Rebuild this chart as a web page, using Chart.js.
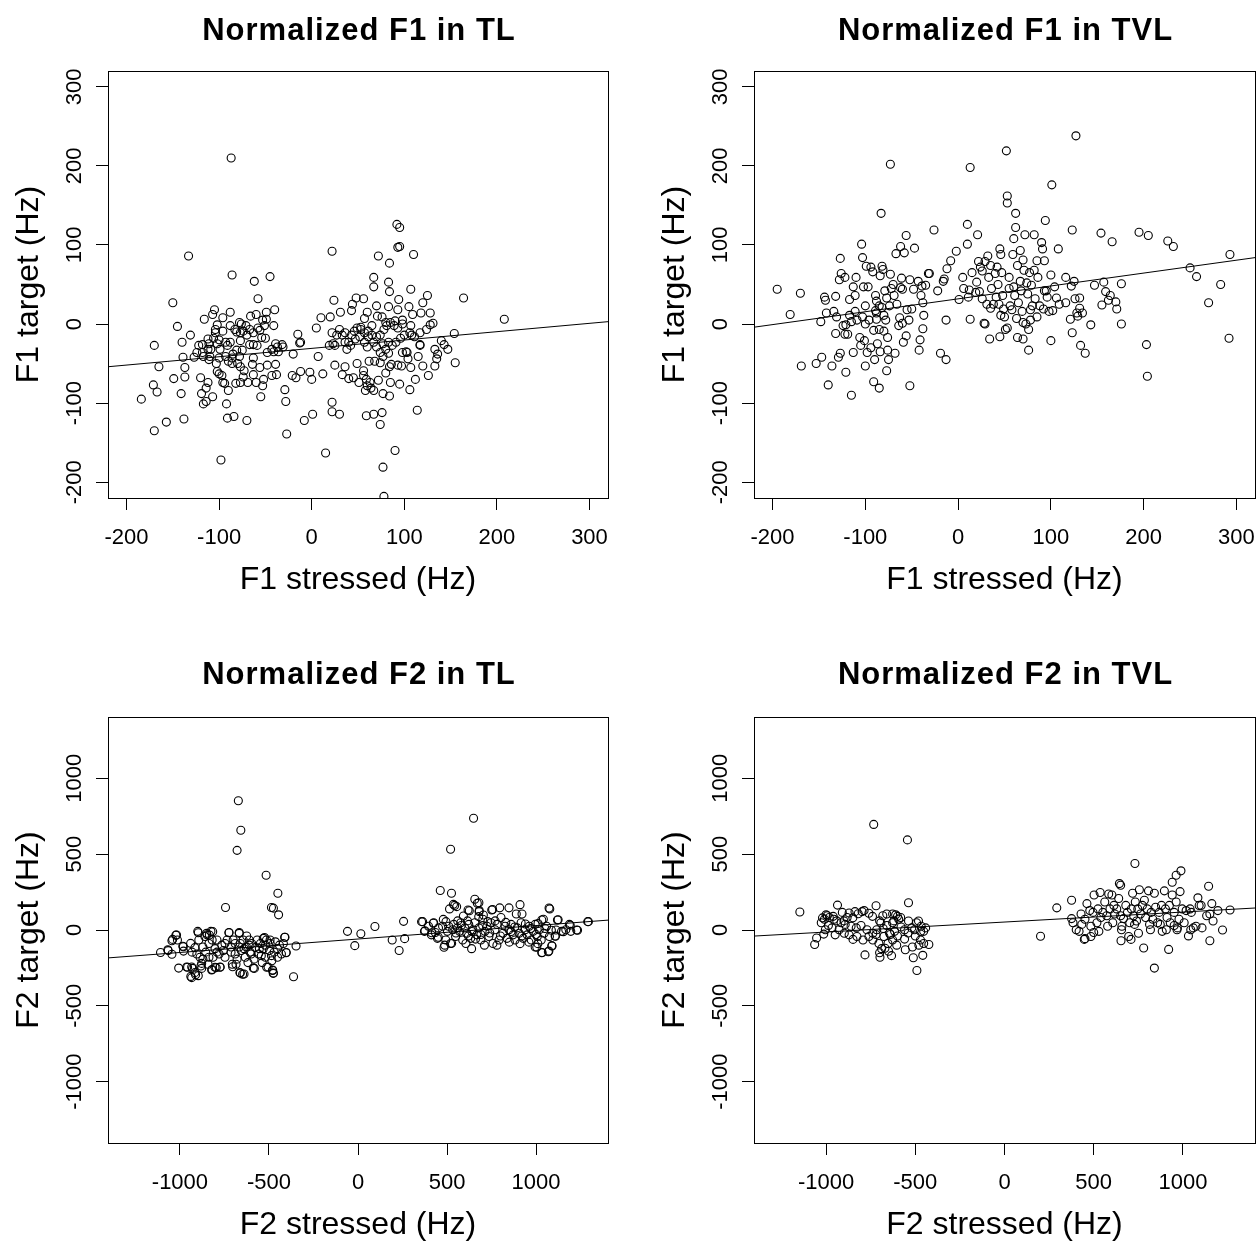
<!DOCTYPE html>
<html>
<head>
<meta charset="utf-8">
<script src="https://cdn.jsdelivr.net/npm/chart.js@4.4.0/dist/chart.umd.min.js"></script>
<style>
  body { margin: 0; background: #fff; width: 1257px; height: 1246px; position: relative; overflow: hidden; }
  canvas { position: absolute; }
</style>
</head>
<body>
<canvas id="f1tl" width="628" height="640" style="left:0px;top:0px"></canvas>
<canvas id="f1tvl" width="630" height="640" style="left:646px;top:0px"></canvas>
<canvas id="f2tl" width="628" height="600" style="left:0px;top:646px"></canvas>
<canvas id="f2tvl" width="630" height="600" style="left:646px;top:646px"></canvas>
<script>
// tick values
const f1Ticks = [-200, -100, 0, 100, 200, 300];
const f2Ticks = [-1000, -500, 0, 500, 1000];
const f1Range = [-220, 320];
const f2Range = [-1404, 1404];

// regression lines, read at the plot edges
const fitF1TL = [[-220, -54], [320, 3]];
const fitF1TVL = [[-220, -4], [320, 84]];
const fitF2TL = [[-1404, -184], [1404, 65]];
const fitF2TVL = [[-1404, -40], [1404, 145]];

// F1 in TL  [stressed, target]
const f1TL = [[-87,210],[-133,86],[-86,62],[-62,54],[-45,60],[-150,27],[22,92],[92,126],[95,122],[95,98],[93,97],[110,88],[72,86],[84,77],[164,33],[208,6],[107,44],[67,59],[83,53],[67,47],[84,41],[125,36],[120,27],[48,33],[56,32],[24,30],[94,31],[105,22],[83,22],[70,23],[44,25],[31,15],[43,17],[60,15],[20,9],[10,8],[109,12],[118,14],[128,14],[131,1],[128,-1],[154,-12],[140,-21],[143,-26],[147,-32],[133,-32],[136,-38],[135,-44],[133,-53],[155,-49],[117,-26],[115,-41],[120,-53],[126,-65],[112,-70],[106,-83],[114,-109],[104,-44],[102,-35],[107,-55],[97,-53],[95,-76],[85,-74],[84,-91],[77,-88],[76,-112],[74,-127],[67,-114],[59,-116],[77,-181],[90,-160],[78,-218],[15,-163],[22,-99],[22,-111],[30,-114],[1,-114],[-8,-122],[-27,-139],[-28,-98],[-29,-83],[-70,-122],[-84,-117],[-91,-119],[-92,-101],[-98,-172],[-138,-120],[-157,-124],[-170,-135],[-184,-95],[-167,-86],[-171,-77],[-141,-88],[-149,-69],[-137,-67],[-165,-54],[-139,-42],[-137,-55],[-127,-42],[-170,-27],[-140,-23],[-145,-3],[-131,-14],[-116,6],[-105,18],[-107,12],[-96,8],[-88,15],[-102,-1],[-118,-26],[-112,-19],[-118,-36],[-111,-45],[-120,-68],[-119,-88],[-117,-101],[-114,-98],[-114,-81],[-112,-74],[-107,-92],[-100,-63],[-97,-65],[-102,-60],[-96,-74],[-94,-75],[-90,-84],[-82,-75],[-77,-74],[-74,-67],[-73,-59],[-86,-50],[-80,-50],[-77,-54],[-69,-74],[-63,-64],[-60,-74],[-55,-92],[-53,-78],[-52,-70],[-56,-55],[-48,-52],[-43,-65],[-38,-64],[-39,-51],[-41,-35],[-36,-35],[-48,-36],[-50,-18],[-54,-17],[-56,-8],[-53,5],[-49,6],[-49,15],[-40,18],[-41,-2],[-58,32],[-66,10],[-60,12],[-63,-11],[-67,-26],[-63,-26],[-59,-27],[-63,-43],[-64,-51],[-70,-14],[-74,-9],[-78,2],[-77,-11],[-81,-10],[-83,-7],[-77,-21],[-75,-33],[-78,-41],[-81,-33],[-86,-43],[-91,-27],[-88,-23],[-85,-38],[-93,-41],[-90,-47],[-99,-32],[-100,-43],[-103,-50],[-100,-20],[-102,-25],[-106,-18],[-104,-11],[-104,-7],[-111,-25],[-112,-32],[-117,-41],[-110,-41],[-109,-32],[-15,-13],[-12,-23],[-13,-24],[-20,-38],[-32,-26],[-31,-29],[-21,-65],[-17,-68],[-12,-60],[-2,-61],[0,-70],[7,-41],[5,-5],[12,-63],[19,-27],[23,-25],[25,-27],[22,-11],[27,-14],[25,-52],[36,-54],[33,-64],[40,-69],[45,-68],[49,-50],[51,-74],[56,-59],[56,-65],[59,-70],[60,-78],[58,-84],[63,-74],[64,-81],[67,-84],[72,-71],[62,-47],[68,-47],[74,-49],[77,-41],[80,-62],[84,-54],[86,-51],[83,-37],[80,-32],[74,-36],[70,-29],[67,-23],[60,-29],[57,-23],[52,-16],[47,-19],[42,-27],[40,-23],[36,-23],[38,-32],[33,-14],[30,-7],[36,-11],[43,-14],[46,-9],[49,-5],[53,-4],[57,-11],[61,-16],[65,-14],[70,-16],[74,-14],[78,-7],[81,-2],[85,2],[89,-2],[93,-5],[98,0],[107,-2],[106,-11],[108,-14],[100,-14],[96,-18],[91,-23],[87,-27],[83,-23],[77,-25],[76,9],[80,2],[71,10],[65,-2],[61,-9],[57,7],[53,-7],[93,18],[98,5],[90,4],[111,-16],[117,-11],[124,-7],[117,-27],[98,-36],[93,-52],[103,-36],[-124,-36],[-122,-27],[-93,-23],[-96,-9],[-88,-2],[-76,0],[-67,-7],[-71,-2],[-58,-5],[-51,-2],[-43,-32],[-39,-25],[-37,-29]];

// F1 in TVL
const f1TVL = [[-195,44],[-181,12],[-170,39],[-169,-53],[-153,-50],[-148,3],[-147,-42],[-144,34],[-143,30],[-142,14],[-140,-77],[-136,-53],[-132,35],[-134,16],[-132,-12],[-131,9],[-129,-42],[-127,-37],[-128,56],[-127,83],[-126,64],[-124,-2],[-122,59],[-122,-13],[-121,-1],[-121,-61],[-119,-13],[-117,11],[-117,31],[-115,-90],[-115,3],[-113,-36],[-113,47],[-111,36],[-111,16],[-110,59],[-109,5],[-106,-17],[-105,-27],[-104,101],[-103,9],[-103,84],[-102,47],[-100,23],[-100,0],[-101,-21],[-100,-53],[-99,73],[-98,-36],[-97,47],[-96,5],[-94,-30],[-94,72],[-92,66],[-91,-8],[-91,-73],[-90,-45],[-89,36],[-89,17],[-88,29],[-88,14],[-88,6],[-87,-25],[-85,23],[-85,-7],[-85,-81],[-84,-35],[-84,61],[-83,140],[-82,73],[-82,21],[-81,69],[-80,11],[-80,-9],[-79,42],[-78,5],[-77,-59],[-77,33],[-76,-17],[-76,-33],[-75,-45],[-74,23],[-73,63],[-73,202],[-72,45],[-70,50],[-69,36],[-68,-37],[-67,89],[-66,25],[-64,-2],[-63,8],[-62,46],[-62,98],[-61,58],[-60,44],[-60,1],[-59,-23],[-58,90],[-56,112],[-56,-15],[-55,18],[-53,5],[-52,56],[-52,-78],[-50,19],[-48,44],[-47,96],[-43,54],[-42,-33],[-41,-20],[-40,36],[-39,48],[-38,27],[-38,-6],[-37,11],[-35,49],[-32,64],[-31,64],[-26,119],[-22,42],[-19,-37],[-16,54],[-15,57],[-13,5],[-13,-45],[-12,70],[-8,80],[-2,92],[1,31],[5,59],[6,45],[10,126],[10,101],[11,34],[12,43],[13,198],[13,6],[15,65],[19,40],[20,53],[21,113],[22,79],[23,41],[24,72],[26,67],[26,32],[28,1],[29,0],[29,79],[31,25],[32,86],[33,59],[34,-19],[35,20],[35,74],[36,45],[38,25],[40,64],[41,34],[42,72],[43,50],[44,25],[45,95],[45,-16],[46,88],[46,11],[47,65],[48,36],[49,19],[50,9],[51,-7],[52,219],[53,162],[53,153],[53,-5],[55,45],[55,59],[56,23],[58,18],[59,88],[60,108],[60,47],[61,36],[62,140],[62,122],[63,7],[64,74],[64,-17],[65,27],[67,93],[67,54],[68,42],[69,16],[70,-19],[70,81],[70,2],[71,68],[72,113],[73,0],[74,52],[75,38],[76,-33],[76,-7],[77,65],[78,18],[78,5],[79,49],[80,23],[82,113],[82,68],[83,32],[85,9],[85,80],[86,59],[88,23],[90,103],[91,95],[92,19],[93,42],[93,80],[94,131],[95,42],[96,34],[98,16],[100,62],[100,-21],[101,176],[102,17],[104,47],[106,33],[108,95],[109,25],[116,27],[116,59],[121,6],[122,48],[123,119],[123,-11],[125,54],[126,32],[127,238],[128,14],[129,10],[131,33],[131,20],[132,-27],[134,14],[137,-37],[143,-1],[147,49],[154,115],[155,24],[157,53],[159,41],[162,30],[166,104],[164,36],[170,28],[171,19],[176,51],[176,0],[195,116],[205,112],[203,-26],[204,-66],[226,105],[232,98],[250,71],[257,60],[270,27],[283,50],[293,88],[292,-18]];

// F2 in TL
const f2TL = [[-672,852],[-658,658],[-679,525],[-516,361],[-450,242],[-486,148],[-475,144],[-446,100],[-744,148],[649,737],[520,532],[462,260],[525,242],[656,203],[679,180],[514,139],[543,162],[618,132],[756,135],[796,146],[848,146],[910,167],[921,105],[889,105],[1077,139],[681,128],[729,55],[357,55],[256,57],[95,23],[-59,-9],[16,-25],[-18,-103],[192,-66],[262,-57],[231,-135],[-348,-105],[-362,-308],[1124,68],[1294,55],[1233,-2],[1192,32],[1167,2],[1109,-41],[1090,-105],[1072,-139],[1034,-148],[995,-112],[1041,71],[1011,43],
  [-1109,-148],[-1068,-130],[-1045,-71],[-1045,-160],[-1023,-34],[-1014,-66],[-1007,-251],[-984,-107],[-980,-139],[-962,-244],[-939,-306],[-934,-244],[-932,-146],[-916,-116],[-912,-295],[-900,-9],[-894,-66],[-887,-180],[-882,-237],[-871,-112],[-860,-43],[-855,-146],[-848,-32],[-842,-226],[-837,-89],[-826,-9],[-819,-66],[-819,-260],[-814,-180],[-803,-123],[-796,-248],[-792,-66],[-780,-158],[-774,-244],[-765,-100],[-756,-135],[-747,-180],[-735,-66],[-724,-16],[-713,-112],[-706,-226],[-701,-66],[-690,-158],[-679,-192],[-667,-16],[-661,-89],[-661,-283],[-656,-135],[-645,-66],[-640,-290],[-633,-180],[-627,-112],[-618,-215],[-611,-66],[-606,-146],[-597,-89],[-588,-251],[-584,-192],[-577,-116],[-566,-66],[-559,-158],[-548,-89],[-538,-215],[-532,-123],[-525,-50],[-520,-180],[-514,-66],[-505,-244],[-498,-135],[-493,-89],[-484,-203],[-480,-267],[-475,-283],[-471,-146],[-464,-78],[-452,-123],[-441,-100],[-430,-158],[-419,-89],[-412,-48],[-403,-148],
  [-690,-89],[-611,-100],[-554,-123],[-520,-100],[-640,-123],[-600,-158],[-543,-169],[-486,-169],[-452,-180],[-747,-89],[-713,-146],[-792,-146],[-837,-180],[-871,-192],[-905,-158],[-667,-112],
  [-1019,-33],[-1041,-62],[-981,-110],[-940,-88],[-1066,-136],[-957,-246],[-929,-253],[-916,-281],[-934,-314],[-897,-301],[-878,-253],[-878,-220],[-822,-264],[-803,-246],[-775,-246],[-704,-242],[-685,-226],[-663,-281],[-648,-292],[-582,-253],[-513,-246],[-479,-264],[-476,-286],[-897,-18],[-850,-22],[-816,-11],[-835,-33],[-725,-18],[-667,-22],[-625,-40],[-532,-55],[-494,-66],[-410,-48],[-404,-150],
  [373,-9],[396,25],[412,-32],[425,48],[434,-16],[446,-55],[452,14],[475,25],[487,-100],[493,-66],[502,-9],[509,25],[520,-89],[532,2],[538,37],[548,-43],[559,14],[570,-9],[577,48],[588,-66],[600,14],[606,-89],[611,-21],[622,37],[633,-55],[638,-123],[645,2],[656,48],[667,-32],[679,14],[690,-66],[701,71],[713,-9],[724,25],[735,-43],[747,48],[758,-89],[769,2],[781,37],[792,-66],[803,82],[814,-21],[826,25],[837,-55],[848,2],[860,37],[871,-32],[882,-66],[894,14],[905,-21],[916,48],[928,-55],[939,2],[950,-32],[962,25],[973,-66],[984,-9],[995,37],[1007,-43],[1018,2],[1029,-66],[1045,-21],[1059,25],[1075,-43],[1086,-2],[1143,-9],
  [536,169],[554,154],[670,176],[680,121],[751,132],[592,92],[625,127],[678,88],[704,99],[363,55],[423,44],[494,55],[479,70],[376,-5],[414,-18],[451,-48],[526,-88],[483,-114],[1032,66],[1120,66],[1187,37],[1290,55],[1228,0],[1195,-9],[1153,-11],[1112,0],[1107,-40],[1088,-103],[1069,-143],[1032,-150],[1004,-114],[1073,145],
  [550,-20],[580,30],[615,60],[640,-10],[660,-60],[700,30],[740,-20],[770,60],[800,-40],[830,50],[860,-10],[880,20],[920,-40],[940,40],[970,10],[1000,-30],[1050,10],[560,60],[620,-40],[690,-30],[710,-100],[780,-100],[850,-80],[910,-90],[960,-80],[1010,-90]];

// F2 in TVL
const f2TVL = [[-733,696],[-544,594],[-538,180],[-1147,119],[-1064,-96],[-1053,-53],[-1013,-27],[-782,-164],[-698,-180],[-633,-169],[-491,-267],[-511,-183],[-458,-167],[-424,-96],[-936,164],[-720,160],[202,-41],[293,146],[376,196],[731,438],[989,390],[962,361],[940,315],[644,306],[651,295],[1144,288],[840,-251],[920,-128],[780,-119],[1151,-71],[1222,0],[1264,132],[653,-71],[709,-62],[451,-57],[500,-16],
  [-1027,48],[-1009,71],[-993,94],[-982,82],[-909,116],[-882,82],[-871,112],[-838,121],[-820,107],[-798,121],[-787,128],[-967,14],[-949,-32],[-916,48],[-893,37],[-860,25],[-831,14],[-804,30],[-771,2],[-738,-21],[-716,2],[-693,48],[-682,94],[-660,105],[-627,105],[-627,48],[-593,71],[-582,82],[-560,2],[-538,59],[-520,14],[-504,2],[-493,48],[-482,59],[-467,25],[-453,-9],[-442,14],[-471,-66],[-453,-89],[-516,-112],[-556,-130],[-604,-100],[-627,-66],[-653,-89],[-689,-123],[-704,-89],[-676,-43],[-644,-21],[-616,-9],[-738,-66],[-760,-43],[-793,-66],[-827,-43],[-849,-62],[-871,-32],[-898,-21],[-927,2],[-956,71],[-987,30],[-1004,2],
  [-1000,100],[-1020,80],[-960,90],[-940,60],[-900,60],[-850,80],[-760,110],[-740,90],[-700,60],[-660,30],[-640,-30],[-600,-40],[-580,20],[-560,-60],[-620,60],[-680,10],[-720,-30],[-540,-20],[-500,-40],[-480,-100],[-470,-10],[-650,-140],[-700,-150],[-670,-120],[-610,100],[-600,90],
  [376,75],[384,48],[402,2],[418,-9],[429,105],[433,37],[451,71],[462,174],[478,128],[484,25],[496,116],[502,231],[518,48],[524,139],[536,247],[540,82],[551,116],[562,185],[573,94],[584,237],[591,139],[602,231],[607,48],[613,162],[618,105],[629,139],[640,208],[651,94],[658,25],[667,75],[680,162],[689,116],[702,48],[711,139],[718,242],[724,94],[733,185],[740,59],[747,139],[756,265],[762,105],[773,162],[784,196],[791,82],[800,139],[807,258],[813,37],[822,116],[831,71],[840,242],[847,150],[858,48],[867,116],[880,162],[884,-9],[896,258],[902,139],[911,82],[924,162],[929,48],[940,231],[951,116],[962,185],[969,14],[978,71],[984,253],[996,139],[1007,48],[1018,128],[1031,-39],[1040,139],[1047,116],[1058,14],[1073,25],[1084,212],[1091,162],[1102,162],[1107,14],[1133,94],[1151,105],[1162,174],[1169,59],[1196,128],
  [529,-9],[484,-43],[447,-62],[578,25],[656,2],[729,37],[751,-21],[696,-43],[818,2],[873,37],[907,2],[967,2],[951,30],[1044,2]];

const FONT = '"Liberation Sans", Arial, Helvetica, sans-serif';
Chart.defaults.font.family = FONT;
Chart.defaults.color = '#000';

// R-style main title + box around the plot region
const rFrame = {
  id: 'rFrame',
  afterDraw(chart, args, opts) {
    const { ctx, chartArea: a } = chart;
    ctx.save();
    ctx.strokeStyle = '#000';
    ctx.lineWidth = 1;
    ctx.strokeRect(Math.round(a.left) + 0.5, Math.round(a.top) + 0.5,
      Math.round(a.right - a.left), Math.round(a.bottom - a.top));
    ctx.fillStyle = '#000';
    ctx.font = 'bold 31px ' + FONT;
    if ('letterSpacing' in ctx) ctx.letterSpacing = '1px';
    ctx.textAlign = 'center';
    ctx.textBaseline = 'alphabetic';
    ctx.fillText(opts.text, (a.left + a.right) / 2 + 1, opts.y);
    ctx.restore();
  }
};

const toXY = arr => arr.map(p => ({ x: p[0], y: p[1] }));

function panel(id, c) {
  return new Chart(document.getElementById(id), {
    type: 'scatter',
    data: {
      datasets: [
        {
          data: toXY(c.fit),
          showLine: true,
          borderColor: '#000',
          borderWidth: 1,
          pointRadius: 0
        },
        {
          data: toXY(c.pts),
          pointStyle: 'circle',
          pointRadius: 4,
          borderWidth: 1.1,
          borderColor: '#000',
          backgroundColor: 'rgba(0,0,0,0)'
        }
      ]
    },
    options: {
      responsive: false,
      animation: false,
      devicePixelRatio: 1,
      events: [],
      layout: { padding: { top: 71, right: c.padRight, bottom: 0, left: 0 } },
      plugins: {
        legend: { display: false },
        tooltip: { enabled: false },
        title: { display: false },
        rFrame: { text: c.title, y: c.titleY }
      },
      scales: {
        x: {
          type: 'linear',
          min: c.range[0],
          max: c.range[1],
          afterBuildTicks: s => { s.ticks = c.ticks.map(v => ({ value: v })); },
          afterFit: s => { s.height = c.xAxisH; },
          border: { display: false },
          grid: { drawOnChartArea: false, drawTicks: true, tickLength: 12, color: '#000' },
          ticks: { color: '#000', font: { size: 22 }, padding: 15, autoSkip: false, maxRotation: 0, callback: v => String(v) },
          title: { display: true, text: c.xLabel, color: '#000', font: { size: 32 }, padding: { top: 0, bottom: c.xTitlePad } }
        },
        y: {
          type: 'linear',
          min: c.range[0],
          max: c.range[1],
          afterBuildTicks: s => { s.ticks = c.ticks.map(v => ({ value: v })); },
          afterFit: s => { s.width = 108; },
          border: { display: false },
          grid: { drawOnChartArea: false, drawTicks: true, tickLength: 12, color: '#000' },
          ticks: { color: '#000', font: { size: 22 }, padding: c.yTickPad, autoSkip: false, minRotation: 90, maxRotation: 90, crossAlign: 'center', callback: v => String(v) },
          title: { display: true, text: c.yLabel, color: '#000', font: { size: 32 }, padding: { top: 10, bottom: 0 } }
        }
      }
    },
    plugins: [rFrame]
  });
}

panel('f1tl', { title: 'Normalized F1 in TL', titleY: 40, pts: f1TL, fit: fitF1TL, range: f1Range, ticks: f1Ticks,
  xLabel: 'F1 stressed (Hz)', yLabel: 'F1 target (Hz)', padRight: 20, xAxisH: 142, xTitlePad: 41, yTickPad: -1 });
panel('f1tvl', { title: 'Normalized F1 in TVL', titleY: 40, pts: f1TVL, fit: fitF1TVL, range: f1Range, ticks: f1Ticks,
  xLabel: 'F1 stressed (Hz)', yLabel: 'F1 target (Hz)', padRight: 21, xAxisH: 142, xTitlePad: 41, yTickPad: -1 });
panel('f2tl', { title: 'Normalized F2 in TL', titleY: 38, pts: f2TL, fit: fitF2TL, range: f2Range, ticks: f2Ticks,
  xLabel: 'F2 stressed (Hz)', yLabel: 'F2 target (Hz)', padRight: 20, xAxisH: 103, xTitlePad: 2, yTickPad: -7 });
panel('f2tvl', { title: 'Normalized F2 in TVL', titleY: 38, pts: f2TVL, fit: fitF2TVL, range: f2Range, ticks: f2Ticks,
  xLabel: 'F2 stressed (Hz)', yLabel: 'F2 target (Hz)', padRight: 21, xAxisH: 103, xTitlePad: 2, yTickPad: -7 });
</script>
</body>
</html>
